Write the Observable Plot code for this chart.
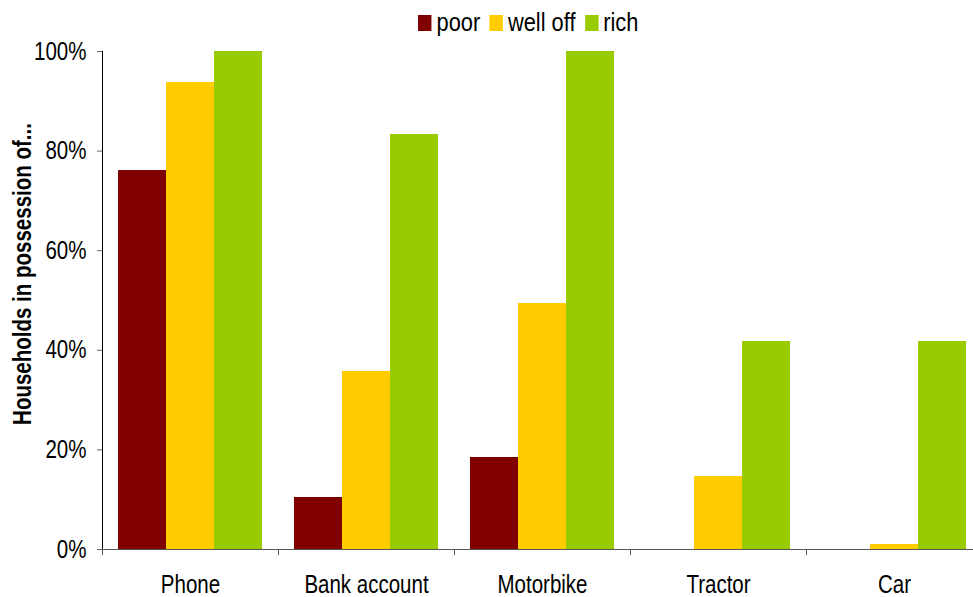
<!DOCTYPE html>
<html>
<head>
<meta charset="utf-8">
<script src="https://cdn.jsdelivr.net/npm/d3@7"></script>
<script src="https://cdn.jsdelivr.net/npm/@observablehq/plot@0.6"></script>
<style>
  body { margin: 0; background: #fff; }
  #chart { position: relative; width: 973px; height: 597px; overflow: hidden; font-family: "Liberation Sans", Arial, sans-serif; }
  #legend { position: absolute; top: 6px; left: 418px; transform: scaleX(0.84); transform-origin: 0 0; }
  #legend .lg-swatches { font-family: "Liberation Sans", Arial, sans-serif; font-size: 26px; margin: 0; color: #000; white-space: nowrap; }
  #legend .lg-swatch { margin-right: 11px; }
  #legend .lg-swatch > svg { margin-right: 6px; }
  #chart svg [aria-label^="y-axis"] line,
  #chart svg [aria-label^="y-axis"] path { stroke: #666; }
</style>
</head>
<body>
<div id="chart"><div id="legend"></div></div>
<script>
// Household assets by wealth group (% of households)
const items = ["Phone", "Bank account", "Motorbike", "Tractor", "Car"];
const groups = ["poor", "well off", "rich"];
const poor = [76.2, 10.4, 18.5, 0, 0];
const wellOff = [93.8, 35.7, 49.4, 14.7, 1.0];
const rich = [100, 83.3, 100, 41.7, 41.7];
const groupColors = ["#800000", "#FFCC00", "#99CC00"];
const yTicks = [0, 20, 40, 60, 80, 100];
const yTitle = "Households in possession of...";

// Narrow lettering: glyphs are squeezed to this share of their normal width
const NARROW = 0.82;

const seriesByGroup = {"poor": poor, "well off": wellOff, "rich": rich};
const rows = items.flatMap((item, i) =>
  groups.map(group => ({item, group, value: seriesByGroup[group][i]}))
);

// Short downward tick at the left edge of each category band
function bandTicks(index, scales) {
  const x0 = scales.x.range()[0];
  const y0 = scales.y(0);
  return d3.create("svg:line")
    .attr("x1", x0).attr("x2", x0)
    .attr("y1", y0).attr("y2", y0 + 6)
    .attr("stroke", "#555")
    .attr("shape-rendering", "crispEdges")
    .node();
}

const chart = Plot.plot({
  width: 973,
  height: 597,
  marginLeft: 100,
  marginRight: -10,
  marginTop: 51,
  marginBottom: 48,
  style: {
    fontFamily: '"Liberation Sans", Arial, sans-serif',
    fontSize: "25px",
    color: "#000",
    background: "#fff",
    overflow: "hidden"
  },
  facet: {data: rows, x: "item"},
  fx: {domain: items, padding: 0, axis: "bottom", label: null, tickSize: 0, tickPadding: 26},
  x: {domain: groups, paddingInner: 0, paddingOuter: 0.33, axis: null},
  y: {
    domain: [0, 100],
    ticks: yTicks,
    tickFormat: d => d + "%",
    tickSize: 5,
    tickPadding: 11,
    line: true,
    label: null
  },
  color: {domain: groups, range: groupColors},
  marks: [
    Plot.barY(rows, {x: "group", y: "value", fill: "group", shapeRendering: "crispEdges"}),
    Plot.ruleY([0], {stroke: "#555"}),
    bandTicks
  ]
});

// Rotated y-axis title
d3.select(chart).append("text")
  .attr("transform", "translate(12,274) rotate(-90)")
  .attr("text-anchor", "middle")
  .attr("dy", "0.75em")
  .attr("font-weight", "bold")
  .attr("fill", "#000")
  .text(yTitle);

document.getElementById("chart").appendChild(chart);

// Condense every label horizontally, keeping its anchor point
d3.select(chart).selectAll("text").each(function() {
  const len = this.getComputedTextLength();
  if (len > 0) {
    this.setAttribute("textLength", len * NARROW);
    this.setAttribute("lengthAdjust", "spacingAndGlyphs");
  }
});

const legend = Plot.legend({
  color: {domain: groups, range: groupColors},
  legend: "swatches",
  swatchWidth: 16,
  swatchHeight: 16,
  className: "lg"
});
document.getElementById("legend").appendChild(legend);
</script>
</body>
</html>
